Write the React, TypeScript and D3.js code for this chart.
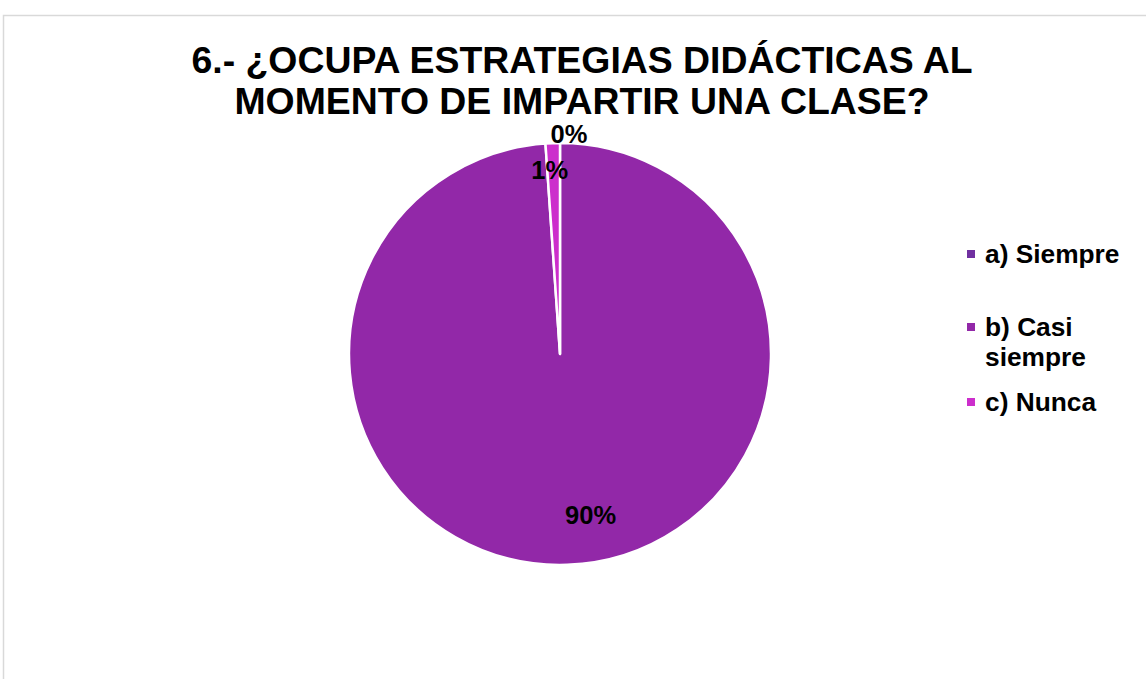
import React from "react";
import * as d3 from "d3";

const titleLines = ["6.- ¿OCUPA ESTRATEGIAS DIDÁCTICAS AL", "MOMENTO DE IMPARTIR UNA CLASE?"];
const categories = ["a) Siempre", "b) Casi siempre", "c) Nunca"];
const legendLines = [["a) Siempre"], ["b) Casi", "siempre"], ["c) Nunca"]];
const values = [0, 90, 1];
const labels = ["0%", "90%", "1%"];
const colors = ["#7030A0", "#9228A8", "#CC2ECC"];

const W = 1146;
const H = 679;
const cx = 560;
const cy = 354;
const R = 211;

export default function App() {
  const pie = d3.pie<number>().sort(null).value((d) => d);
  const arcs = pie(values);
  const arc = d3.arc<d3.PieArcDatum<number>>().innerRadius(0).outerRadius(R);

  const labelPlace = [
    { rf: 1.04, dx: 9, dy: 8 },
    { rf: 0.77, dx: 25, dy: 8 },
    { rf: 0.87, dx: -4, dy: 8 },
  ];

  const legendRowY = [254, 327, 402];

  return (
    <svg
      width={W}
      height={H}
      style={{ position: "absolute", left: 0, top: 0, background: "#fff" }}
      fontFamily="'Liberation Sans', Arial, sans-serif"
    >
      <rect x={3.5} y={15.5} width={W + 10} height={H + 10} fill="#fff" stroke="#d9d9d9" strokeWidth={1.5} />
      {titleLines.map((t, i) => (
        <text key={t} x={582} y={73 + i * 41} textAnchor="middle" fontSize={37.4} fontWeight="bold" fill="#000">
          {t}
        </text>
      ))}
      <g transform={`translate(${cx},${cy})`}>
        {arcs.map((a, i) => (
          <path key={i} d={arc(a) || ""} fill={colors[i]} stroke="#fff" strokeWidth={2.5} strokeLinejoin="round" />
        ))}
        {arcs.map((a, i) => {
          const mid = (a.startAngle + a.endAngle) / 2;
          const r = R * labelPlace[i].rf;
          const x = Math.sin(mid) * r + labelPlace[i].dx;
          const y = -Math.cos(mid) * r + labelPlace[i].dy;
          return (
            <text key={"l" + i} x={x} y={y} textAnchor="middle" fontSize={25.5} fontWeight="bold" fill="#000">
              {labels[i]}
            </text>
          );
        })}
      </g>
      {categories.map((c, i) => (
        <g key={c}>
          <rect x={967} y={legendRowY[i] - 4} width={8} height={8} fill={colors[i]} />
          {legendLines[i].map((ln, j) => (
            <text key={ln} x={985} y={legendRowY[i] + 9 + j * 30} fontSize={26.3} fontWeight="bold" fill="#000">
              {ln}
            </text>
          ))}
        </g>
      ))}
    </svg>
  );
}
